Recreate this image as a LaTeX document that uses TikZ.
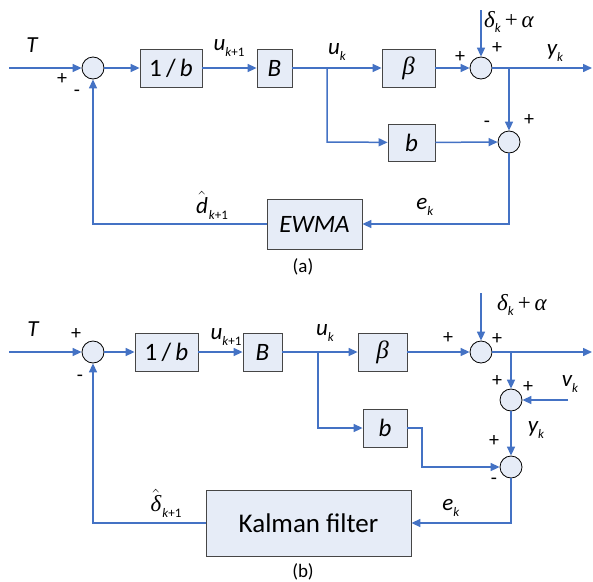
\documentclass[tikz,border=0pt]{standalone}
\usepackage{fontspec}
\setmainfont{Carlito}
\newfontfamily\grk{Liberation Serif}
\usetikzlibrary{arrows.meta}
\definecolor{lblue}{RGB}{68,114,196}
\definecolor{bfill}{RGB}{230,236,247}
\definecolor{bdraw}{RGB}{70,70,70}
\newcommand{\subtx}[1]{\raisebox{-0.5ex}{\fontsize{13}{13}\selectfont #1}}
\newcommand{\lbsub}[2]{{\itshape #1}\subtx{#2}}
\newcommand{\kk}{\textit{k}}
\newcommand{\gk}[1]{{\grk\itshape #1}}
\tikzset{
  blk/.style={draw=bdraw, fill=bfill, line width=0.8pt, inner sep=0pt, font=\fontsize{25}{25}\selectfont\itshape},
  summ/.style={circle, draw=black, fill=bfill, line width=0.8pt, minimum size=22pt, inner sep=0pt},
  sig/.style={draw=lblue, line width=1.5pt},
  arr/.style={sig, -{Triangle[length=9pt,width=8pt]}},
  lab/.style={font=\fontsize{23}{23}\selectfont, inner sep=0pt},
  glab/.style={font=\fontsize{23}{23}\selectfont, inner sep=0pt, anchor=west},
  pm/.style={font=\fontsize{20}{20}\selectfont, inner sep=0pt},
  captxt/.style={font=\fontsize{19}{19}\selectfont, inner sep=0pt}
}
\begin{document}
\begin{tikzpicture}[x=1pt,y=-1pt]
\useasboundingbox (0,0) rectangle (593,581);
% ---------------- panel (a) ----------------
\coordinate (ina) at (9,68);
\node[summ] (sa1) at (93,68) {};
\node[blk, minimum width=62pt, minimum height=38pt] (ba1) at (171,68) {\upshape 1\,/\,\itshape b};
\node[blk, minimum width=35pt, minimum height=38pt] (baB) at (274.5,68) {B};
\coordinate (ja) at (327,68);
\node[blk, minimum width=53pt, minimum height=38pt] (babeta) at (408.5,68) {\gk{β}};
\node[summ] (sa2) at (481,68) {};
\coordinate (topa) at (481,10);
\coordinate (jya) at (509,68);
\coordinate (outa) at (592,68);
\node[summ] (sa3) at (509,142) {};
\node[blk, minimum width=47pt, minimum height=37pt] (bab) at (411.5,142.5) {b};
\node[blk, minimum width=95pt, minimum height=50pt] (ewma) at (314.5,224) {EWMA};
\coordinate (ca1) at (327,142);
\coordinate (ca2) at (509,224);
\coordinate (ca3) at (93,224);

\draw[arr] (ina) -- (sa1);
\draw[arr] (sa1) -- (ba1);
\draw[arr] (ba1) -- (baB);
\draw[arr] (baB) -- (babeta);
\draw[arr] (babeta) -- (sa2);
\draw[arr] (topa) -- (sa2);
\draw[arr] (sa2) -- (outa);
\draw[arr] (jya) -- (sa3);
\draw[arr] (ja) -- (ca1) -- (bab);
\draw[arr] (bab) -- (sa3);
\draw[arr] (sa3) -- (ca2) -- (ewma);
\draw[arr] (ewma) -- (ca3) -- (sa1);

\node[lab] (ta) at (32,45) {\itshape T};
\node[pm] (pa1) at (62,79) {+};
\node[pm] (pa2) at (77,93) {-};
\node[lab] (uka1) at (229,48) {\lbsub{u}{\kk+1}};
\node[lab] (uka) at (337,52) {\lbsub{u}{\kk}};
\node[pm] (pa3) at (460,57) {+};
\node[pm] (pa4) at (497,48) {+};
\node[glab] (da) at (484,22) {\gk{δ}\subtx{\kk}\,{\grk +\,\itshape α}};
\node[lab] (yka) at (555,53) {\lbsub{y}{\kk}};
\node[pm] (pa5) at (487,124) {-};
\node[pm] (pa6) at (529,120) {+};
\node[lab] (dha) at (212,205) {$\hat{\mbox{\itshape d}}$\kern1pt\subtx{\kk+1}};
\node[lab] (eka) at (425,207) {\lbsub{e}{\kk}};
\node[captxt] (capa) at (303,267) {(a)};

% ---------------- panel (b) ----------------
\coordinate (inb) at (9,352);
\node[summ] (sb1) at (93,352) {};
\node[blk, minimum width=63pt, minimum height=38pt] (bb1) at (166.5,352) {\upshape 1\,/\,\itshape b};
\node[blk, minimum width=39pt, minimum height=38pt] (bbB) at (262.5,352) {B};
\coordinate (jb) at (318,352);
\node[blk, minimum width=49pt, minimum height=38pt] (bbbeta) at (382.5,352) {\gk{β}};
\node[summ] (sb2) at (481,352) {};
\coordinate (topb) at (481,293);
\coordinate (jyb) at (511,352);
\coordinate (outb) at (592,352);
\node[summ] (sbn) at (511,400) {};
\coordinate (vb) at (568,400);
\node[summ] (sb4) at (511,467) {};
\node[blk, minimum width=44pt, minimum height=38pt] (bbb) at (385,428) {b};
\coordinate (cb1) at (318,428);
\coordinate (cb2) at (422,428);
\coordinate (cb3) at (422,467);
\coordinate (cb4) at (511,523);
\coordinate (cb5) at (93,523);
\node[blk, minimum width=205pt, minimum height=66pt, font=\fontsize{27}{27}\selectfont] (kf) at (308.5,523) {Kalman filter};

\draw[arr] (inb) -- (sb1);
\draw[arr] (sb1) -- (bb1);
\draw[arr] (bb1) -- (bbB);
\draw[arr] (bbB) -- (bbbeta);
\draw[arr] (bbbeta) -- (sb2);
\draw[arr] (topb) -- (sb2);
\draw[arr] (sb2) -- (outb);
\draw[arr] (jyb) -- (sbn);
\draw[arr] (vb) -- (sbn);
\draw[arr] (sbn) -- (sb4);
\draw[arr] (jb) -- (cb1) -- (bbb);
\draw[arr] (bbb) -- (cb2) -- (cb3) -- (sb4);
\draw[arr] (sb4) -- (cb4) -- (kf);
\draw[arr] (kf) -- (cb5) -- (sb1);

\node[lab] (tb) at (33,329) {\itshape T};
\node[pm] (pb1) at (76,334) {+};
\node[pm] (pb2) at (80,378) {-};
\node[lab] (ukb1) at (226,337) {\lbsub{u}{\kk+1}};
\node[lab] (ukb) at (325,333) {\lbsub{u}{\kk}};
\node[pm] (pb3) at (448,338) {+};
\node[glab] (db) at (497,305) {\gk{δ}\subtx{\kk}\,{\grk +\,\itshape α}};
\node[pm] (pb4) at (497,339) {+};
\node[pm] (pb5) at (497,381) {+};
\node[pm] (pb6) at (528,387) {+};
\node[lab] (vkb) at (570,384) {\lbsub{v}{\kk}};
\node[lab] (ykb) at (536,430) {\lbsub{y}{\kk}};
\node[pm] (pb7) at (494,441) {+};
\node[pm] (pb8) at (494,481) {-};
\node[lab] (dhb) at (166,503) {$\hat{\mbox{\gk{δ}}}$\kern1pt\subtx{\kk+1}};
\node[lab] (ekb) at (451,508) {\lbsub{e}{\kk}};
\node[captxt] (capb) at (303,572) {(b)};
\end{tikzpicture}
\end{document}
